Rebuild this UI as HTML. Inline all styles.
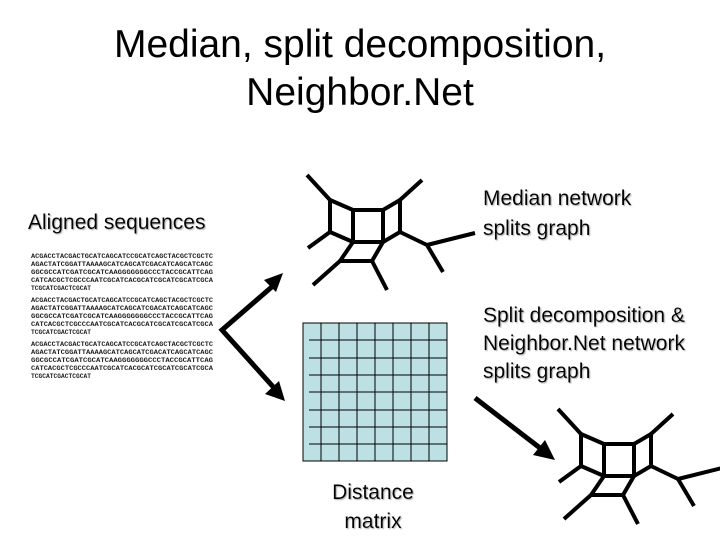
<!DOCTYPE html>
<html><head><style>
body{margin:0;background:#fff;width:720px;height:540px;overflow:hidden;font-family:"Liberation Sans",sans-serif}
</style></head><body>
<svg width="720" height="540" viewBox="0 0 720 540" xmlns="http://www.w3.org/2000/svg">
<defs>
<g id="net" fill="none" stroke="#000" stroke-width="4" stroke-linejoin="round">
<rect x="353" y="210" width="30" height="32"/>
<polyline points="353,210 330,200 330,232 353,242"/>
<polyline points="383,210 400,200 400,232 383,242"/>
<polyline points="353,242 340,261 372,261 383,242"/>
<line x1="330" y1="200" x2="307" y2="175"/>
<line x1="400" y1="200" x2="422" y2="180"/>
<line x1="330" y1="232" x2="308" y2="248"/>
<line x1="340" y1="261" x2="313" y2="285"/>
<line x1="372" y1="261" x2="387" y2="290"/>
<polyline points="400,232 427,245 475,233"/>
<line x1="427" y1="245" x2="443" y2="272"/>
</g>
<g id="seq" font-family="Liberation Mono, monospace" font-size="6" font-weight="bold" fill="#222">
<text x="31" y="258" textLength="182" lengthAdjust="spacingAndGlyphs">ACGACCTACGACTGCATCAGCATCCGCATCAGCTACGCTCGCTC</text>
<text x="31" y="266" textLength="182" lengthAdjust="spacingAndGlyphs">AGACTATCGGATTAAAAGCATCAGCATCGACATCAGCATCAGC</text>
<text x="31" y="274" textLength="182" lengthAdjust="spacingAndGlyphs">GGCGCCATCGATCGCATCAAGGGGGGGCCCTACCGCATTCAG</text>
<text x="31" y="282" textLength="182" lengthAdjust="spacingAndGlyphs">CATCACGCTCGCCCAATCGCATCACGCATCGCATCGCATCGCA</text>
<text x="31" y="290" textLength="60" lengthAdjust="spacingAndGlyphs">TCGCATCGACTCGCAT</text>
</g>
<filter id="sh"><feDropShadow dx="1" dy="1" stdDeviation="0.5" flood-color="#aaa"/></filter>
</defs>

<g font-size="39" text-anchor="middle" fill="#000">
<text x="360" y="57">Median, split decomposition,</text>
<text x="360" y="105">Neighbor.Net</text>
</g>

<g font-size="21" fill="#000" filter="url(#sh)">
<text x="28" y="229">Aligned sequences</text>
<text x="483" y="205">Median network</text>
<text x="483" y="235">splits graph</text>
<text x="483" y="322">Split decomposition &amp;</text>
<text x="483" y="350">Neighbor.Net network</text>
<text x="483" y="378">splits graph</text>
<text x="373" y="499" text-anchor="middle">Distance</text>
<text x="373" y="528" text-anchor="middle">matrix</text>
</g>

<use href="#seq"/>
<use href="#seq" transform="translate(0,44)"/>
<use href="#seq" transform="translate(0,88)"/>

<use href="#net"/>
<use href="#net" transform="translate(251,234)"/>

<!-- matrix -->
<rect x="303" y="323" width="144" height="138" fill="#bde0e5" stroke="#000" stroke-width="1"/>
<g stroke="#000" stroke-width="1">
<line x1="321" y1="323" x2="321" y2="461"/><line x1="339" y1="323" x2="339" y2="461"/>
<line x1="357" y1="323" x2="357" y2="461"/><line x1="375" y1="323" x2="375" y2="461"/>
<line x1="393" y1="323" x2="393" y2="461"/><line x1="411" y1="323" x2="411" y2="461"/>
<line x1="429" y1="323" x2="429" y2="461"/>
<line x1="309" y1="340" x2="447" y2="340"/><line x1="309" y1="358" x2="447" y2="358"/>
<line x1="309" y1="375" x2="447" y2="375"/><line x1="309" y1="392" x2="447" y2="392"/>
<line x1="309" y1="410" x2="447" y2="410"/><line x1="309" y1="427" x2="447" y2="427"/>
<line x1="309" y1="444" x2="447" y2="444"/>
</g>

<!-- arrows -->
<g stroke="#000" stroke-width="5" fill="none">
<polyline points="274,285 222,330 276,390"/>
<line x1="475" y1="398" x2="540" y2="448"/>
</g>
<g fill="#000">
<polygon points="283,273 264,280 276,292"/>
<polygon points="285,401 265,394 279,381"/>
<polygon points="555,460 545,440 533,455"/>
</g>
</svg>
</body></html>
